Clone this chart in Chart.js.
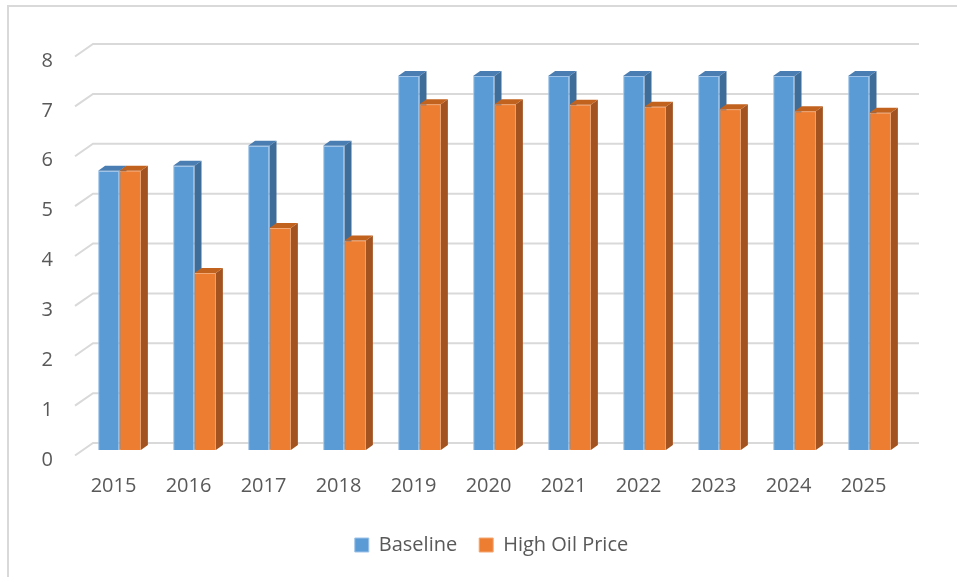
<!DOCTYPE html>
<html>
<head>
<meta charset="utf-8">
<script src="https://cdn.jsdelivr.net/npm/chart.js@4/dist/chart.umd.min.js"></script>
<style>
  html, body { margin: 0; padding: 0; background: #fff; }
  #wrap { position: relative; width: 957px; height: 577px; overflow: hidden; }
  #frame { position: absolute; left: 7px; top: 5px; width: 960px; height: 590px; border: 2px solid #d9d9d9; box-sizing: border-box; pointer-events: none; }
  canvas { position: absolute; left: 0; top: 0; }
</style>
</head>
<body>
<div id="wrap">
  <canvas id="chart" width="957" height="577"></canvas>
  <div id="frame"></div>
</div>
<script>
const years = ['2015', '2016', '2017', '2018', '2019', '2020', '2021', '2022', '2023', '2024', '2025'];
const baseline = [5.6, 5.7, 6.1, 6.1, 7.5, 7.5, 7.5, 7.5, 7.5, 7.5, 7.5];
const highOilPrice = [5.6, 3.55, 4.45, 4.2, 6.93, 6.93, 6.92, 6.88, 6.83, 6.79, 6.76];
const yTicks = [0, 1, 2, 3, 4, 5, 6, 7, 8];

const textColor = '#595959';
const font = { family: '"Open Sans", sans-serif', size: 20 };

// colours for front / side / top faces
const faces = [
  { front: '#5b9bd5', side: '#3e6d99', top: '#4a7db1', edge: '#9fc3e8' },
  { front: '#ed7d31', side: '#a2531f', top: '#c2621f', edge: '#f4a874' }
];
const depthX = 7, depthY = -5;

// slanted "3d" gridlines behind the bars
const grid3d = {
  id: 'grid3d',
  beforeDatasetsDraw(chart) {
    const { ctx, chartArea, scales } = chart;
    ctx.save();
    ctx.strokeStyle = '#d9d9d9';
    ctx.lineWidth = 2;
    yTicks.forEach(v => {
      const p = scales.y.getPixelForValue(v);
      ctx.beginPath();
      ctx.moveTo(chartArea.left - 7, p + 5.5);
      ctx.lineTo(chartArea.left + 11, p - 7);
      ctx.lineTo(chartArea.right + 12, p - 7);
      ctx.stroke();
    });
    ctx.restore();
  }
};

function drawFaces(ctx, bar, f) {
  const { x, y, base, width } = bar.getProps(['x', 'y', 'base', 'width'], true);
  const l = x - width / 2, r = x + width / 2;
  ctx.fillStyle = f.side;
  ctx.beginPath();
  ctx.moveTo(r, y);
  ctx.lineTo(r + depthX, y + depthY);
  ctx.lineTo(r + depthX, base + depthY);
  ctx.lineTo(r, base);
  ctx.closePath();
  ctx.fill();
  ctx.fillStyle = f.top;
  ctx.beginPath();
  ctx.moveTo(l, y);
  ctx.lineTo(l + depthX, y + depthY);
  ctx.lineTo(r + depthX, y + depthY);
  ctx.lineTo(r, y);
  ctx.closePath();
  ctx.fill();
}

// side and top faces; the orange front is drawn again so it covers the blue side
const bars3d = {
  id: 'bars3d',
  afterDatasetsDraw(chart) {
    const { ctx } = chart;
    const blue = chart.getDatasetMeta(0).data;
    const orange = chart.getDatasetMeta(1).data;
    ctx.save();
    blue.forEach((bar, i) => {
      drawFaces(ctx, bar, faces[0]);
      orange[i].draw(ctx, chart.chartArea);
      drawFaces(ctx, orange[i], faces[1]);
    });
    ctx.restore();
  }
};

// move the legend so it sits under the plot area centre
const legendShift = {
  id: 'legendShift',
  afterLayout(chart) {
    chart.legend.left += 38;
    chart.legend.right += 38;
  }
};

new Chart(document.getElementById('chart'), {
  type: 'bar',
  plugins: [grid3d, bars3d, legendShift],
  data: {
    labels: years,
    datasets: [
      {
        label: 'Baseline',
        data: baseline,
        backgroundColor: faces[0].front,
        borderColor: faces[0].edge,
        borderWidth: 1
      },
      {
        label: 'High Oil Price',
        data: highOilPrice,
        backgroundColor: faces[1].front,
        borderColor: faces[1].edge,
        borderWidth: 1
      }
    ]
  },
  options: {
    responsive: false,
    animation: false,
    layout: { padding: { top: 51, left: 0, right: 50, bottom: 12 } },
    datasets: {
      bar: { barPercentage: 1, categoryPercentage: 0.57 }
    },
    plugins: {
      tooltip: { enabled: false },
      legend: {
        position: 'bottom',
        labels: {
          color: textColor,
          font: font,
          boxWidth: 14,
          boxHeight: 14,
          padding: 22
        }
      }
    },
    scales: {
      x: {
        grid: { display: false, drawTicks: false },
        border: { display: false },
        ticks: { color: textColor, font: font, padding: 24, labelOffset: -6, maxRotation: 0 },
        afterFit(scale) { scale.height = 63; }
      },
      y: {
        min: 0,
        max: 8,
        grid: { display: false, drawTicks: false },
        border: { display: false },
        ticks: { color: textColor, font: font, stepSize: 1, padding: 29, labelOffset: 10 },
        afterFit(scale) { scale.width = 82; }
      }
    }
  }
});
</script>
</body>
</html>
